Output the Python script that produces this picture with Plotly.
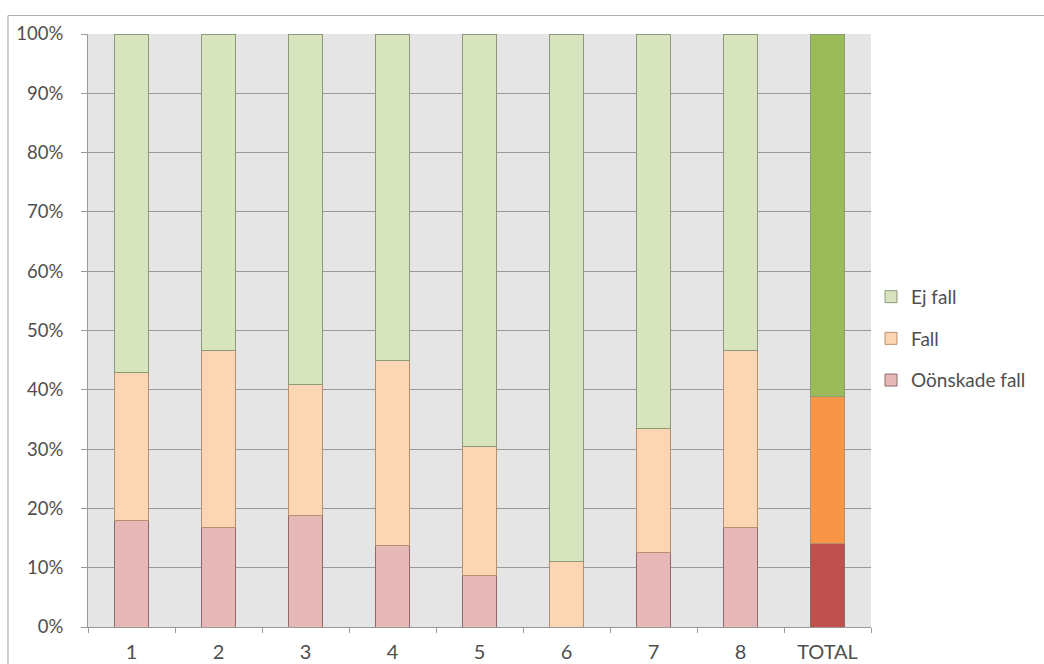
import plotly.graph_objects as go

# Category labels along the x axis
categories = ["1", "2", "3", "4", "5", "6", "7", "8", "TOTAL"]

# Share of each outcome per category (percent, stacked to 100)
oonskade_fall = [18.0, 16.7, 18.8, 13.8, 8.7, 0.0, 12.6, 16.7, 14.0]
fall = [25.0, 30.0, 22.1, 31.1, 21.8, 11.1, 20.9, 30.0, 24.8]
ej_fall = [57.0, 53.3, 59.1, 55.1, 69.5, 88.9, 66.5, 53.3, 61.2]

y_ticks = [0, 10, 20, 30, 40, 50, 60, 70, 80, 90, 100]
y_tick_labels = ["0%", "10%", "20%", "30%", "40%", "50%", "60%", "70%", "80%", "90%", "100%"]

# Light shades for the numbered groups, saturated shades for TOTAL
def shade(light, strong):
    return [light] * (len(categories) - 1) + [strong]

series = [
    ("Oönskade fall", oonskade_fall, shade("#e6b9b8", "#c0504d"), "#8f6a69", 3),
    ("Fall", fall, shade("#fcd5b5", "#f79646"), "#b88f6c", 2),
    ("Ej fall", ej_fall, shade("#d7e4bd", "#9bbb59"), "#8d9a78", 1),
]

fig = go.Figure()
for name, values, colors, edge, rank in series:
    fig.add_trace(go.Bar(
        name=name,
        x=categories,
        y=values,
        legendgroup=name,
        legendrank=rank,
        marker=dict(color=colors, line=dict(color=edge, width=1)),
        hoverinfo="x+y+name",
    ))

font_family = "Lato, 'Open Sans', sans-serif"
label_color = "#4f4f4f"
grid_color = "#9a9a9a"

fig.update_layout(
    width=1044,
    height=664,
    margin=dict(l=88, r=173, t=34, b=37, autoexpand=False),
    barmode="stack",
    bargap=0.6,
    paper_bgcolor="white",
    plot_bgcolor="#e5e5e5",
    font=dict(family=font_family, size=18, color=label_color),
    showlegend=True,
    legend=dict(
        x=1.0,
        xanchor="left",
        y=0.486,
        yanchor="middle",
        traceorder="grouped",
        tracegroupgap=14,
        font=dict(family=font_family, size=19, color=label_color),
        bgcolor="rgba(0,0,0,0)",
    ),
    xaxis=dict(
        type="category",
        showgrid=False,
        showline=True,
        linecolor=grid_color,
        linewidth=1,
        ticks="outside",
        tickson="boundaries",
        ticklen=5,
        tickcolor=grid_color,
        ticklabelstandoff=7,
        tickfont=dict(family=font_family, size=20, color=label_color),
    ),
    yaxis=dict(
        range=[0, 100],
        tickmode="array",
        tickvals=y_ticks,
        ticktext=y_tick_labels,
        showgrid=True,
        gridcolor=grid_color,
        gridwidth=1,
        showline=True,
        linecolor=grid_color,
        linewidth=1,
        ticks="outside",
        ticklen=6,
        tickcolor=grid_color,
        ticklabelstandoff=14,
        zeroline=False,
        tickfont=dict(family=font_family, size=18.5, color=label_color),
    ),
    shapes=[
        # Thin frame along the top and left edges of the chart
        dict(type="line", xref="paper", yref="paper",
             x0=-0.1022, x1=1.3, y0=1.0312, y1=1.0312,
             line=dict(color="#b0b0b0", width=1.2)),
        dict(type="line", xref="paper", yref="paper",
             x0=-0.1022, x1=-0.1022, y0=-0.2, y1=1.0312,
             line=dict(color="#b0b0b0", width=1.2)),
    ],
)

fig.write_html("out.html")
